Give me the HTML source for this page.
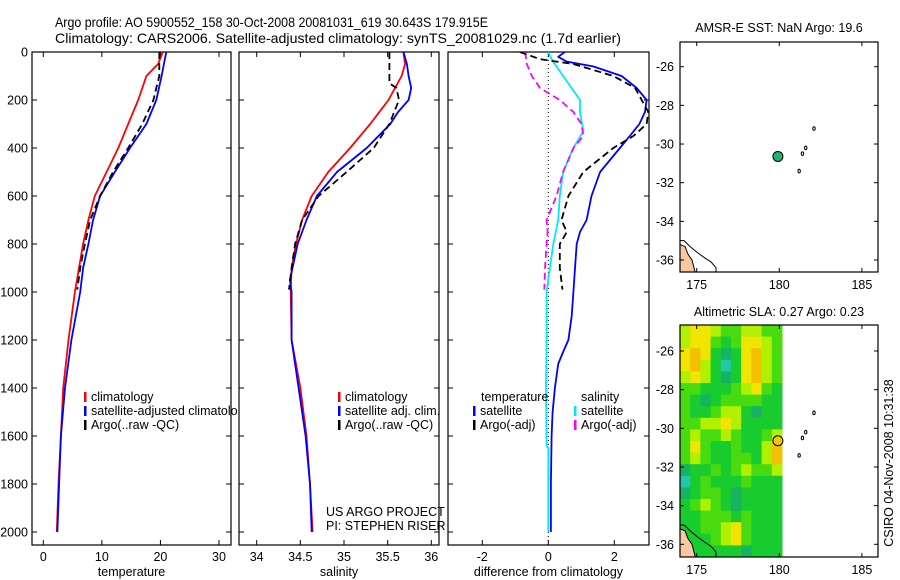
<!DOCTYPE html>
<html><head><meta charset="utf-8"><style>
html,body{margin:0;padding:0;background:#fff;}
svg{display:block;font-family:"Liberation Sans",sans-serif;}
</style></head><body>
<svg id="fig" width="900" height="580" viewBox="0 0 900 580" xmlns="http://www.w3.org/2000/svg">
<defs><clipPath id="legclip"><rect x="0" y="380" width="237" height="60"/></clipPath></defs>
<text x="55" y="27" font-size="14" textLength="433" lengthAdjust="spacingAndGlyphs">Argo profile: AO 5900552_158 30-Oct-2008 20081031_619 30.643S 179.915E</text>
<text x="55" y="43" font-size="14" textLength="566" lengthAdjust="spacingAndGlyphs">Climatology: CARS2006. Satellite-adjusted climatology: synTS_20081029.nc (1.7d earlier)</text>
<g id="plots"></g>
</svg>
<script>
// ---- data ----
const depthTicks=[0,200,400,600,800,1000,1200,1400,1600,1800,2000];
const tempTicks=[0,10,20,30];
const salTicks=[34,34.5,35,35.5,36];
const salTickLabels=["34","34.5","35","35.5","36"];
const diffTicks=[-2,0,2];
const depT=[0,50,100,200,300,400,500,600,700,800,900,1000,1200,1400,1600,1800,2000];
const climT=[20.4,19.6,17.6,16.2,14.5,12.8,10.8,8.8,7.7,6.8,6.1,5.4,4.3,3.4,3.0,2.6,2.3];
const satT=[21.0,20.6,20.2,19.3,17.6,14.8,12.2,9.7,8.5,7.7,6.8,6.3,4.8,3.7,3.0,2.7,2.4];
const depArgoT=[0,100,150,200,300,400,500,600,700,800,900,990];
const argoT=[19.8,19.8,19.3,18.8,16.9,14.5,11.9,9.7,8.0,7.1,6.3,5.8];
const climS=[35.68,35.70,35.66,35.51,35.30,35.07,34.82,34.63,34.52,34.45,34.40,34.39,34.40,34.50,34.57,34.61,34.64];
const depSatS=[0,50,100,150,200,250,300,400,500,600,700,800,900,950,1000,1200,1400,1600,1800,2000];
const satS=[35.68,35.72,35.74,35.77,35.74,35.62,35.53,35.26,34.92,34.69,34.57,34.47,34.41,34.38,34.40,34.40,34.48,34.56,34.61,34.63];
const depArgoS=[0,130,150,200,300,400,500,600,700,800,900,990];
const argoS=[35.52,35.52,35.60,35.63,35.52,35.34,35.03,34.71,34.52,34.44,34.40,34.37];
const depDT=[0,20,40,60,100,150,200,250,300,350,400,500,600,700,750,800,900,1000,1100,1200,1250,1300,1400,1500,1600,1800,2000];
const satDT=[0.5,0.3,0.56,1.36,2.22,2.68,2.98,2.93,2.76,2.47,2.17,1.57,1.31,1.16,0.96,0.86,0.81,0.76,0.71,0.61,0.45,0.3,0.2,0.13,0.1,0.08,0.08];
const depArgoDT=[0,30,50,100,150,200,250,300,350,400,500,600,700,750,800,900,990];
const argoDT=[-0.86,-0.25,0.76,1.97,2.63,2.83,3.03,2.98,2.58,1.97,1.06,0.61,0.4,0.56,0.35,0.35,0.43];
const depDS=[0,30,60,100,200,250,330,400,500,600,700,800,900,1000,1200,1400,1640,1650,2000];
const satDS=[0,0.1,0.25,0.45,0.96,0.96,1.06,0.76,0.45,0.35,0.3,0.15,0.05,-0.05,-0.05,-0.07,-0.05,0,0];
const depArgoDS=[0,50,100,150,200,250,300,350,400,500,600,700,750,800,900,990];
const argoDS=[-0.7,-0.65,-0.5,-0.25,0.35,0.76,1.01,1.06,0.76,0.45,0.25,-0.05,-0.02,-0.05,-0.1,-0.12];
const lonTicks=[175,180,185];
const latTicks=[-26,-28,-30,-32,-34,-36];
const argoLon=179.915, argoLat=-30.643;
const islandLon=[182.1,181.6,181.4,181.2];
const islandLat=[-29.2,-30.2,-30.5,-31.4];
const slaGrid=[
[4,5,5,4,3,3,4,4,3,3],[4,5,5,3,2,3,5,5,4,3],[5,6,5,2,1,2,5,6,4,3],[5,6,4,2,0,2,5,6,4,3],
[4,5,4,2,1,2,5,6,4,3],[3,3,2,2,2,3,4,5,3,2],[3,2,1,2,3,3,3,3,2,2],[3,2,2,3,4,4,2,1,2,2],
[3,3,4,4,5,4,2,2,2,2],[3,4,3,3,4,3,2,2,3,4],[3,5,3,2,2,3,2,2,4,6],[3,4,3,2,2,3,3,2,4,6],
[1,2,2,3,2,3,4,3,3,4],[0,2,3,2,2,2,3,2,2,2],[1,2,3,3,2,1,2,2,2,2],[2,3,4,3,2,1,2,2,2,2],
[2,2,3,3,3,2,3,2,2,2],[2,2,3,3,4,5,3,2,2,2],[2,2,2,3,4,5,3,2,2,2],[2,2,2,2,2,2,1,2,2,2]];
const palette=["#20c8a8","#14b460","#18cc30","#48dc10","#b0f000","#f0e400","#f4c000"];

// ---- helpers ----
const NS="http://www.w3.org/2000/svg";
const root=document.getElementById('plots');
function mk(tag,attrs,parent){const e=document.createElementNS(NS,tag);for(const k in attrs)e.setAttribute(k,attrs[k]);(parent||root).appendChild(e);return e;}
function txt(x,y,s,size,anchor,parent){const t=mk('text',{x:x,y:y,'font-size':size,'text-anchor':anchor||'start'},parent);t.textContent=s;return t;}
const Y0=52,Ypx=0.24,TOP=52,BOT=545;
const yD=d=>Y0+d*Ypx;
function lin(v0,p0,v1,p1){return v=>p0+(v-v0)*(p1-p0)/(v1-v0);}
const xT=lin(0,43.3,30,219);
const xS=lin(34,256.7,36,431.3);
const xD=lin(0,548.3,2,614.3);

function panel(name,x0,x1,xs,ticks,labels,title,ylabels){
  const g=mk('g',{});
  
  
  const cp=mk('clipPath',{id:'cp-'+name},g);
  mk('rect',{x:x0,y:TOP,width:x1-x0,height:BOT-TOP},cp);
  mk('rect',{x:x0,y:TOP,width:x1-x0,height:BOT-TOP,fill:'none',stroke:'#000','stroke-width':1.2},g);
  depthTicks.forEach(d=>{
    mk('line',{x1:x0,x2:x0+5,y1:yD(d),y2:yD(d),stroke:'#000'},g);
    mk('line',{x1:x1-5,x2:x1,y1:yD(d),y2:yD(d),stroke:'#000'},g);
    if(ylabels){const t=txt(28,yD(d)+4.5,String(d),12.5,'end',g);
      
      }
  });
  ticks.forEach((v,i)=>{
    const x=xs(v);
    mk('line',{x1:x,x2:x,y1:TOP,y2:TOP+5,stroke:'#000'},g);
    mk('line',{x1:x,x2:x,y1:BOT-5,y2:BOT,stroke:'#000'},g);
    const t=txt(x,561,labels[i],12.5,'middle',g);
    
    
  });
  const at=txt((x0+x1)/2,576,title,12.5,'middle',g);
  
  
  const pg=mk('g',{'clip-path':'url(#cp-'+name+')'},g);
  return pg;
}
function series(g,deps,vals,xs,color,dash,name){
  const pts=deps.map((d,i)=>xs(vals[i]).toFixed(1)+','+yD(d).toFixed(1)).join(' ');
  const p=mk('polyline',{points:pts,fill:'none',stroke:color,'stroke-width':1.8,'stroke-linejoin':'round'},g);
  if(dash)p.setAttribute('stroke-dasharray',dash);
  
  
}
function legend(x,y,color,label,name,parent){
  const r=mk('rect',{x:x,y:y-9,width:2.5,height:10,fill:color},parent);
  
  
  const t=txt(x+7,y,label,12.5,'start',parent);
  
  
}

// Panel 1
const g1=panel('temperature-panel',32,231,xT,tempTicks,tempTicks.map(String),'temperature',true);
series(g1,depT,climT,xT,'#ff0000',null,'temp-climatology-line');
series(g1,depT,satT,xT,'#0000ff',null,'temp-satellite-line');
series(g1,depArgoT,argoT,xT,'#000',"7,4",'temp-argo-line');
// Panel 2
const g2=panel('salinity-panel',239,439,xS,salTicks,salTickLabels,'salinity',false);
series(g2,depT,climS,xS,'#ff0000',null,'sal-climatology-line');
series(g2,depSatS,satS,xS,'#0000ff',null,'sal-satellite-line');
series(g2,depArgoS,argoS,xS,'#000',"7,4",'sal-argo-line');
// Panel 3
const g3=panel('difference-panel',448,649,xD,diffTicks,diffTicks.map(String),'difference from climatology',false);
mk('line',{x1:xD(0),x2:xD(0),y1:TOP,y2:BOT,stroke:'#000','stroke-width':1,'stroke-dasharray':'1,3'},g3);
series(g3,depDS,satDS,xD,'#00e8ff',null,'sal-diff-satellite-line');
series(g3,depArgoDS,argoDS,xD,'#ff00ff',"7,4",'sal-diff-argo-line');
series(g3,depDT,satDT,xD,'#0000ff',null,'temp-diff-satellite-line');
series(g3,depArgoDT,argoDT,xD,'#000',"7,4",'temp-diff-argo-line');

// legends
const lg1=mk('g',{'clip-path':'url(#legclip)'});


legend(84,401,'#ff0000','climatology','legend-climatology',lg1);
legend(84,415,'#0000ff','satellite-adjusted climatology','legend-satellite',lg1);
legend(84,429,'#000','Argo(..raw -QC)','legend-argo',lg1);
legend(338,401,'#ff0000','climatology','legend-sal-climatology');
legend(338,415,'#0000ff','satellite adj. clim.','legend-sal-satellite');
legend(338,429,'#000','Argo(..raw -QC)','legend-sal-argo');
const lt=txt(481,401,'temperature',12.5);
const ls=txt(581,401,'salinity',12.5);
legend(473,415,'#0000ff','satellite','legend-diff-temp-satellite');
legend(473,429,'#000','Argo(-adj)','legend-diff-temp-argo');
legend(574,415,'#00e8ff','satellite','legend-diff-sal-satellite');
legend(574,429,'#ff00ff','Argo(-adj)','legend-diff-sal-argo');
const c1=txt(326,516,'US ARGO PROJECT',12.5);
const c2=txt(326,530,'PI: STEPHEN RISER',12.5);

// Maps
const xL=lin(175,696.7,180,779.3);
function mapPanel(name,top,bot,lat26,title,titleY,heat,circleFill){
  const yL=lin(-26,lat26,-36,lat26+193.3);
  const g=mk('g',{});
  
  
  const cp=mk('clipPath',{id:'cp-'+name},g);
  mk('rect',{x:680,y:top,width:198,height:bot-top},cp);
  const inner=mk('g',{'clip-path':'url(#cp-'+name+')'},g);
  if(heat){
    const nr=slaGrid.length,nc=slaGrid[0].length,cw=(782-680)/nc,ch=(bot-top)/nr;
    slaGrid.forEach((row,r)=>row.forEach((v,c)=>{
      const cell=mk('rect',{x:680+c*cw,y:top+r*ch,width:cw+0.5,height:ch+0.5,fill:palette[v]},inner);
      
      
    }));
  }
  const y=yL;
  const outline=mk('path',{d:`M680 ${y(-35.0)} L684 ${y(-35.0)} L690 ${y(-35.3)} L697 ${y(-35.6)} L705 ${y(-35.9)} L711 ${y(-36.1)} L716 ${y(-36.4)} L716 ${y(-36.8)} L680 ${y(-36.8)} Z`,fill:'none',stroke:'#000','stroke-width':1},inner);
  
  const land=mk('path',{d:`M680 ${y(-35.2)} L685 ${y(-35.3)} L688 ${y(-35.7)} L692 ${y(-36.0)} L694 ${y(-36.4)} L696 ${y(-36.8)} L680 ${y(-36.8)} Z`,fill:'#f8c8a0',stroke:'#000','stroke-width':1},inner);
  
  islandLon.forEach((lo,i)=>{
    const isl=mk('ellipse',{cx:xL(lo),cy:yL(islandLat[i]),rx:1.2,ry:1.8,fill:'none',stroke:'#000','stroke-width':1},inner);
    
  });
  const dot=mk('circle',{cx:xL(argoLon),cy:yL(argoLat),r:5,fill:circleFill,stroke:'#000','stroke-width':1},g);
  
  mk('rect',{x:680,y:top,width:198,height:bot-top,fill:'none',stroke:'#000','stroke-width':1.2},g);
  lonTicks.forEach(v=>{const x=xL(v);
    mk('line',{x1:x,x2:x,y1:top,y2:top+4,stroke:'#000'},g);
    mk('line',{x1:x,x2:x,y1:bot-4,y2:bot,stroke:'#000'},g);
    const t=txt(x,bot+17,String(v),12.5,'middle',g);});
  latTicks.forEach(v=>{const yy=yL(v);
    mk('line',{x1:680,x2:684,y1:yy,y2:yy,stroke:'#000'},g);
    mk('line',{x1:874,x2:878,y1:yy,y2:yy,stroke:'#000'},g);
    const t=txt(674,yy+4.5,String(v),12.5,'end',g);});
  const tt=txt(779,titleY,title,12.5,'middle',g);
}
mapPanel('sst-map',42,272,66.7,'AMSR-E SST: NaN Argo: 19.6',32,false,'#18b86a');
mapPanel('sla-map',325,557,351,'Altimetric SLA: 0.27 Argo: 0.23',316,true,'#f4c800');
const cs=txt(0,0,'CSIRO 04-Nov-2008 10:31:38',12.5,'middle');
cs.setAttribute('transform','translate(893,463) rotate(-90)');


</script>
</body></html>
